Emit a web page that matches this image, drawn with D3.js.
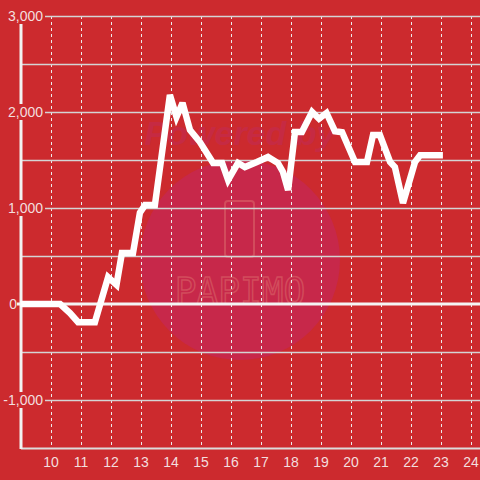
<!DOCTYPE html>
<html><head><meta charset="utf-8">
<script src="https://cdn.jsdelivr.net/npm/d3@7"></script>
<style>html,body{margin:0;padding:0;background:#cc2a2e;}svg{display:block;}</style>
</head><body>
<script>
const times = [9, 10.32, 10.65, 10.92, 11.48, 11.92, 12.2, 12.38, 12.75, 12.98, 13.15, 13.48, 13.98, 14.2, 14.4, 14.65, 14.98, 15.42, 15.72, 15.92, 16.25, 16.48, 16.88, 17.25, 17.58, 17.75, 17.92, 18.15, 18.38, 18.72, 18.95, 19.2, 19.48, 19.72, 20.15, 20.55, 20.75, 20.98, 21.32, 21.48, 21.75, 22.15, 22.32, 23.08];
const values = [0, 0, -94, -190, -190, 280, 200, 530, 530, 950, 1030, 1030, 2177, 1948, 2094, 1812, 1687, 1469, 1469, 1292, 1469, 1427, 1479, 1531, 1469, 1375, 1187, 1792, 1792, 2000, 1930, 1990, 1800, 1790, 1479, 1479, 1760, 1760, 1479, 1427, 1052, 1479, 1550, 1550];
const yTicks = [3000, 2000, 1000, 0, -1000];
const yGrid = [3000, 2500, 2000, 1500, 1000, 500, -500, -1000];
const xTicks = [10, 11, 12, 13, 14, 15, 16, 17, 18, 19, 20, 21, 22, 23, 24];

const W = 480, H = 480;
const svg = d3.select("body").append("svg").attr("width", W).attr("height", H);
const x = d3.scaleLinear().domain([9, 25]).range([20.5, 500.5]);
const y = d3.scaleLinear().domain([-1500, 3000]).range([448, 16]);
const font = "'Liberation Sans', Arial, sans-serif";
const txtCol = "#f3dede";

svg.append("rect").attr("width", W).attr("height", H).attr("fill", "#cc2a2e");

// watermark
const wm = svg.append("g");
wm.append("circle").attr("cx", 240).attr("cy", 260).attr("r", 100).attr("fill", "#c7284a");
wm.append("text").attr("x", 240).attr("y", 145).attr("text-anchor", "middle")
  .attr("font-family", font).attr("font-weight", "bold").attr("font-style", "italic")
  .attr("font-size", 34).attr("fill", "#c62a43").text("Powered by");
wm.append("rect").attr("x", 225).attr("y", 201).attr("width", 29).attr("height", 56).attr("rx", 3)
  .attr("fill", "none").attr("stroke", "#d24c5c").attr("stroke-width", 2);
wm.append("text").attr("x", 240).attr("y", 304).attr("text-anchor", "middle")
  .attr("font-family", "'DejaVu Sans Mono', monospace").attr("font-size", 38).attr("letter-spacing", 0)
  .attr("transform", "translate(240,0) scale(0.95,1) translate(-240,0)")
  .attr("fill", "none").attr("stroke", "#d24c5c").attr("stroke-width", 1.5).text("PAPIMO");

// vertical dashed grid
svg.append("g").selectAll("line").data(xTicks).join("line")
  .attr("x1", d => Math.round(x(d)) + 0.5).attr("x2", d => Math.round(x(d)) + 0.5)
  .attr("y1", 16).attr("y2", 448)
  .attr("stroke", "#ececec").attr("stroke-width", 1).attr("stroke-dasharray", "3,3");

// horizontal grid
svg.append("g").selectAll("line").data(yGrid).join("line")
  .attr("x1", 22).attr("x2", W)
  .attr("y1", d => Math.round(y(d)) + 0.5).attr("y2", d => Math.round(y(d)) + 0.5)
  .attr("stroke", "#d4d4d4").attr("stroke-width", 1.3);

// bottom axis line
svg.append("line").attr("x1", 21).attr("x2", W).attr("y1", 448.5).attr("y2", 448.5)
  .attr("stroke", "#dcdcdc").attr("stroke-width", 2);

// y axis line
svg.append("line").attr("x1", 21).attr("x2", 21).attr("y1", 16).attr("y2", 449)
  .attr("stroke", "#f2f2f2").attr("stroke-width", 3);

// y labels with backing
const fmt = d => d3.format(",")(d).replace("\u2212", "-");
const yl = svg.append("g").selectAll("g").data(yTicks).join("g");
yl.append("rect")
  .attr("x", d => d === 0 ? 6 : 0).attr("width", d => d === 0 ? 12 : 45)
  .attr("y", d => y(d) - 8).attr("height", 16).attr("fill", "#cc2a2e");
yl.append("text")
  .attr("x", d => d === 0 ? 17 : 43).attr("y", d => y(d)).attr("dy", "0.36em")
  .attr("text-anchor", "end").attr("font-family", font).attr("font-size", 14)
  .attr("fill", txtCol).text(d => fmt(d));

// zero line
svg.append("line").attr("x1", 17).attr("x2", W).attr("y1", y(0)).attr("y2", y(0))
  .attr("stroke", "#f4f4f4").attr("stroke-width", 3);

// x labels
svg.append("g").selectAll("text").data(xTicks).join("text")
  .attr("x", d => x(d) + 0.5).attr("y", 462).attr("dy", "0.36em").attr("text-anchor", "middle")
  .attr("font-family", font).attr("font-size", 14).attr("fill", txtCol).text(d => d);

// data line
const pts = times.map((t, i) => [t, values[i]]);
svg.append("path").datum(pts)
  .attr("d", d3.line().x(d => x(d[0])).y(d => y(d[1])))
  .attr("fill", "none").attr("stroke", "#ffffff").attr("stroke-width", 6.5)
  .attr("stroke-linejoin", "miter").attr("stroke-miterlimit", 3);
</script>
</body></html>
